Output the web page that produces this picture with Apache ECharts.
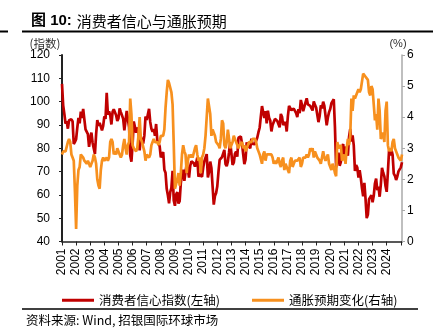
<!DOCTYPE html>
<html>
<head>
<meta charset="utf-8">
<script src="https://cdn.jsdelivr.net/npm/echarts@6/dist/echarts.min.js"></script>
<style>
html,body{margin:0;padding:0;background:#fff;}
#c{width:443px;height:330px;}
</style>
</head>
<body>
<div id="c"></div>
<script>
// Monthly data, Nov 2000 - Dec 2024
var startYear = 2000, startMonth = 11;
var yearLabels = ['2001','2002','2003','2004','2005','2006','2007','2008','2009','2010','2011','2012',
  '2013','2014','2015','2016','2017','2018','2019','2020','2021','2022','2023','2024'];

var sentiment = [
107.6, 98.4,
94.7, 90.6, 91.5, 88.4, 92.0, 92.6, 92.4, 91.5, 81.8, 82.7, 83.9, 88.8,
93.0, 90.7, 95.7, 93.0, 96.9, 92.4, 88.1, 87.6, 86.1, 80.6, 84.2, 86.7,
82.4, 79.9, 77.6, 86.0, 92.1, 89.7, 90.9, 89.3, 87.7, 89.6, 93.7, 92.6,
103.8, 94.4, 95.8, 94.2, 90.2, 95.6, 96.7, 95.9, 94.2, 91.7, 92.8, 97.1,
95.5, 94.1, 92.6, 87.7, 86.9, 96.0, 96.5, 89.1, 76.9, 74.2, 81.6, 91.5,
91.2, 86.7, 88.9, 87.4, 79.1, 84.9, 84.7, 82.0, 85.4, 93.6, 92.1, 91.7,
96.9, 91.3, 88.4, 87.1, 88.3, 85.3, 90.4, 83.4, 83.4, 80.9, 76.1, 75.5,
78.4, 70.8, 69.5, 62.6, 59.8, 56.4, 61.2, 63.0, 70.3, 57.6, 55.3, 60.1,
61.2, 56.3, 57.3, 65.1, 68.7, 70.8, 66.0, 65.7, 73.5, 70.6, 67.4, 72.5,
74.4, 73.6, 73.6, 72.2, 73.6, 76.0, 67.8, 68.9, 68.2, 67.7, 71.6, 74.5,
74.2, 77.5, 67.5, 69.8, 74.3, 71.5, 63.7, 55.8, 59.5, 60.8, 63.7, 69.9,
75.0, 75.3, 76.2, 76.4, 79.3, 73.2, 72.3, 74.3, 78.3, 82.6, 82.7, 72.9,
73.8, 77.6, 78.6, 76.4, 84.5, 84.1, 85.1, 82.1, 77.5, 73.2, 75.1, 82.5,
81.2, 81.6, 80.0, 84.1, 81.9, 82.5, 81.8, 82.5, 84.6, 86.9, 88.8, 93.6,
98.1, 95.4, 93.0, 95.9, 90.7, 96.1, 93.1, 91.9, 87.2, 90.0, 91.3, 92.6,
92.0, 91.7, 91.0, 89.0, 94.7, 93.5, 90.0, 89.8, 91.2, 87.2, 93.8, 98.2,
98.5, 96.3, 96.9, 97.0, 97.1, 95.1, 93.4, 96.8, 95.1, 100.7, 98.5, 95.9,
95.7, 99.7, 101.4, 98.8, 98.0, 98.2, 97.9, 96.2, 100.1, 98.6, 97.5, 98.3,
91.2, 93.8, 98.4, 97.2, 100.0, 98.2, 98.4, 89.8, 93.2, 95.5, 96.8, 99.3,
99.8, 101.0, 89.1, 71.8, 72.3, 78.1, 72.5, 74.1, 80.4, 81.8, 76.9, 80.7,
79.0, 76.8, 84.9, 88.3, 82.9, 85.5, 81.2, 70.3, 72.8, 71.7, 67.4, 70.6,
67.2, 62.8, 59.4, 65.2, 58.4, 50.0, 51.5, 58.2, 58.6, 59.9, 56.8, 59.7,
64.9, 67.0, 62.0, 63.5, 59.2, 64.4, 71.6, 69.5, 67.9, 63.8, 61.3, 69.7,
79.0, 76.9, 79.4, 77.2, 69.1, 68.2, 66.4, 67.9, 70.1, 70.5, 71.8, 74.0
];

var inflation = [
2.8, 2.9,
2.9, 2.9, 2.9, 3.2, 3.3, 3.2, 2.8, 2.7, 2.6, 1.6, 0.4, 1.8,
2.3, 2.4, 2.8, 2.8, 2.7, 2.6, 2.6, 2.5, 2.6, 2.5, 2.4, 2.5,
2.6, 2.8, 2.7, 2.5, 2.0, 1.8, 1.7, 2.3, 2.6, 2.7, 2.6, 2.6,
2.7, 2.6, 2.7, 3.2, 3.3, 3.2, 2.8, 2.9, 2.8, 3.0, 3.0, 2.8,
2.7, 2.8, 3.1, 3.3, 3.0, 2.8, 3.1, 3.2, 4.6, 4.1, 3.1, 3.0,
3.0, 2.9, 3.0, 3.4, 4.0, 3.3, 3.2, 3.2, 2.9, 2.6, 2.8, 2.8,
2.7, 2.8, 3.1, 3.2, 3.3, 3.2, 3.2, 3.2, 3.1, 3.2, 3.4, 3.4,
3.4, 3.6, 4.3, 4.8, 5.2, 5.1, 5.1, 4.8, 4.4, 3.1, 1.7, 1.7,
2.0, 2.2, 1.8, 2.2, 2.8, 3.1, 2.9, 2.8, 2.2, 2.6, 2.8, 2.7,
2.8, 2.7, 2.7, 3.0, 3.1, 2.8, 2.6, 2.7, 2.2, 2.7, 2.8, 3.0,
3.4, 3.4, 4.6, 4.6, 4.1, 3.4, 3.6, 3.5, 3.4, 3.2, 3.2, 3.1,
3.0, 3.3, 3.9, 3.8, 3.1, 3.0, 3.2, 3.6, 3.3, 3.0, 3.1, 3.2,
3.4, 3.3, 3.3, 3.1, 3.0, 3.1, 3.1, 3.2, 3.0, 3.1, 2.9, 3.0,
3.1, 3.2, 3.2, 3.2, 3.3, 3.3, 3.3, 3.2, 3.0, 2.9, 2.8, 2.8,
2.5, 2.8, 2.9, 2.6, 2.8, 2.8, 2.8, 2.8, 2.8, 2.7, 2.5, 2.6,
2.5, 2.5, 2.7, 2.5, 2.4, 2.6, 2.7, 2.3, 2.5, 2.4, 2.4, 2.2,
2.6, 2.7, 2.4, 2.5, 2.6, 2.6, 2.6, 2.6, 2.7, 2.4, 2.5, 2.7,
2.7, 2.7, 2.8, 2.7, 2.8, 3.0, 2.9, 3.0, 2.7, 2.9, 2.8, 2.7,
2.7, 2.6, 2.5, 2.5, 2.9, 2.7, 2.6, 2.7, 2.8, 2.5, 2.5, 2.3,
2.5, 2.4, 2.2, 2.1, 3.2, 3.0, 3.0, 3.1, 2.6, 2.6, 2.8, 2.5,
3.0, 3.3, 3.1, 3.4, 4.6, 4.2, 4.7, 4.6, 4.6, 4.8, 4.9, 4.8,
4.9, 4.9, 5.4, 5.4, 5.3, 5.3, 5.2, 4.8, 4.7, 5.0, 4.9, 4.4,
3.9, 4.1, 3.6, 4.6, 4.2, 3.3, 3.4, 3.5, 3.2, 4.2, 4.5, 3.1,
2.9, 3.0, 2.9, 3.2, 3.3, 3.0, 2.9, 2.8, 2.7, 2.7, 2.6, 2.8
];

var months = [];
(function(){
  var y = startYear, m = startMonth;
  for (var i = 0; i < sentiment.length; i++) {
    months.push(y + '-' + (m < 10 ? '0' + m : m));
    m++; if (m > 12) { m = 1; y++; }
  }
})();

var CJK = '"Noto Sans CJK SC", "Liberation Sans", sans-serif';
var LAT = '"Liberation Sans", Arial, sans-serif';
var RED = '#C00000', ORANGE = '#F7901E';

var chart = echarts.init(document.getElementById('c'), null, {renderer: 'canvas'});
chart.setOption({
  animation: false,
  backgroundColor: '#fff',
  title: {
    text: '{b|图 10:} {n|消费者信心与通胀预期}',
    left: 26, top: 7,
    textStyle: {
      rich: {
        b: {fontFamily: LAT + ', "Noto Sans CJK SC"', fontWeight: 'bold', fontSize: 15, color: '#000'},
        n: {fontFamily: CJK, fontWeight: 'normal', fontSize: 15, color: '#000'}
      }
    }
  },
  legend: [{
    data: ['消费者信心指数(左轴)'],
    left: 57, top: 289,
    icon: 'rect', itemWidth: 32, itemHeight: 3,
    textStyle: {fontFamily: CJK, fontSize: 12.5, color: '#000'}
  }, {
    data: ['通胀预期变化(右轴)'],
    left: 247, top: 289,
    icon: 'rect', itemWidth: 32, itemHeight: 3,
    textStyle: {fontFamily: CJK, fontSize: 12.5, color: '#000'}
  }],
  grid: {left: 62, right: 41, top: 55, bottom: 88.5, containLabel: false},
  xAxis: {
    type: 'category',
    data: months,
    boundaryGap: false,
    axisLine: {lineStyle: {color: '#222', width: 1.5}},
    axisTick: {
      interval: function (i) { return i % 12 === 0; },
      length: 4, lineStyle: {color: '#222', width: 1}
    },
    axisLabel: {
      interval: function (i) { return i % 12 === 0 && (i / 12) < yearLabels.length; },
      formatter: function (v, i) { return yearLabels[Math.floor(i / 12)] || ''; },
      rotate: 90, margin: 7,
      fontFamily: LAT, fontSize: 12, color: '#000'
    },
    splitLine: {show: false}
  },
  yAxis: [{
    type: 'value', min: 40, max: 120, interval: 10,
    name: '(指数)', nameLocation: 'end', nameGap: 6,
    nameTextStyle: {fontFamily: CJK, fontSize: 11.5, color: '#333', align: 'center', padding: [0, 34, 0, 0]},
    axisLine: {show: true, lineStyle: {color: '#222', width: 2}},
    axisTick: {show: true, length: 3, lineStyle: {color: '#222'}},
    axisLabel: {fontFamily: LAT, fontSize: 12, color: '#000', margin: 12},
    splitLine: {show: false}
  }, {
    type: 'value', min: 0, max: 6, interval: 1,
    name: '(%)', nameLocation: 'end', nameGap: 6,
    nameTextStyle: {fontFamily: LAT, fontSize: 11, color: '#333', align: 'center', padding: [0, 8, 0, 0]},
    axisLine: {show: true, lineStyle: {color: '#aaa', width: 1.5}},
    axisTick: {show: true, length: 3, lineStyle: {color: '#aaa'}},
    axisLabel: {fontFamily: LAT, fontSize: 12, color: '#000', margin: 5},
    splitLine: {show: false}
  }],
  series: [{
    name: '消费者信心指数(左轴)',
    type: 'line', yAxisIndex: 0,
    data: sentiment,
    showSymbol: false, symbol: 'none',
    lineStyle: {color: RED, width: 2.7},
    itemStyle: {color: RED},
    z: 2
  }, {
    name: '通胀预期变化(右轴)',
    type: 'line', yAxisIndex: 1,
    data: inflation,
    showSymbol: false, symbol: 'none',
    lineStyle: {color: ORANGE, width: 2.7},
    itemStyle: {color: ORANGE},
    z: 3
  }],
  graphic: [
    {type: 'line', shape: {x1: 0, y1: 31.5, x2: 8, y2: 31.5}, style: {stroke: '#000', lineWidth: 2}},
    {type: 'line', shape: {x1: 22, y1: 31.5, x2: 433, y2: 31.5}, style: {stroke: '#000', lineWidth: 2}},
    {type: 'line', shape: {x1: 22, y1: 309, x2: 418, y2: 309}, style: {stroke: '#000', lineWidth: 1.5}},
    {type: 'text', left: 26, top: 314,
     style: {text: '资料来源: Wind, 招银国际环球市场', font: '12.5px ' + CJK, fill: '#000'}}
  ]
});
</script>
</body>
</html>
